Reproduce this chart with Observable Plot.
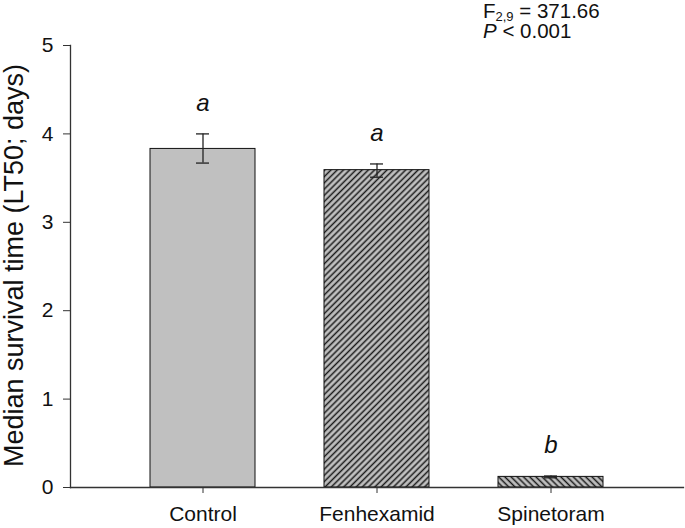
<!DOCTYPE html>
<html><head><meta charset="utf-8">
<script src="https://cdn.jsdelivr.net/npm/d3@7"></script>
<script src="https://cdn.jsdelivr.net/npm/@observablehq/plot@0.6"></script>
<style>
body{margin:0;background:#fff;font-family:"Liberation Sans",Arial,sans-serif}
#wrap{position:relative;width:685px;height:528px}
#stats{position:absolute;left:483px;top:1px;font-size:20.5px;line-height:20px;color:#111;z-index:2}
#stats div{height:20px;white-space:nowrap}
#stats sub{font-size:13px;vertical-align:-3px;line-height:0}
</style></head><body><div id="wrap"><div id="stats"><div>F<sub>2,9</sub> = 371.66</div><div><i>P</i> &lt; 0.001</div></div></div>
<script>
const treatments = ["Control", "Fenhexamid", "Spinetoram"];
const meanLT50 = [3.83, 3.59, 0.12];
const errLow = [3.67, 3.51, 0.11];
const errHigh = [4.00, 3.66, 0.13];
const letters = ["a", "a", "b"];
const yTicks = [0, 1, 2, 3, 4, 5];
const yLabel = "Median survival time (LT50; days)";

const data = treatments.map((t, i) => ({treatment: t, mean: meanLT50[i], lo: errLow[i], hi: errHigh[i], letter: letters[i]}));
const fillFor = {Control: "#c0c0c0", Fenhexamid: "url(#hatchUp)", Spinetoram: "url(#hatchDown)"};
const font = '"Liberation Sans", Arial, sans-serif';

const svg = Plot.plot({
  width: 685, height: 528,
  marginTop: 45, marginBottom: 41, marginLeft: 70, marginRight: 2,
  style: {fontFamily: font, background: "#fff", color: "#111"},
  x: {domain: treatments, paddingInner: 0.394, paddingOuter: 0.449, label: null},
  y: {domain: [0, 5], label: null},
  color: {type: "identity"},
  marks: [
    Plot.barY(data, {x: "treatment", y: "mean", fill: d => fillFor[d.treatment], stroke: "#111", strokeWidth: 1}),
    Plot.ruleX(data, {x: "treatment", y1: "lo", y2: "hi", stroke: "#222", strokeWidth: 1.3}),
    Plot.tickY(data, {x: "treatment", y: "lo", insetLeft: 46, insetRight: 46, stroke: "#222", strokeWidth: 1.3}),
    Plot.tickY(data, {x: "treatment", y: "hi", insetLeft: 46, insetRight: 46, stroke: "#222", strokeWidth: 1.3}),
    Plot.text(data, {x: "treatment", y: "hi", text: "letter", dy: -31, fontSize: 24, fontStyle: "italic", fill: "#111"}),
    Plot.frame({anchor: "left", stroke: "#333", strokeWidth: 1.3}),
    Plot.frame({anchor: "bottom", stroke: "#333", strokeWidth: 1.3}),
    Plot.axisY({ticks: yTicks, tickFormat: "d", tickSize: 7, tickPadding: 10, fontSize: 21, label: null, stroke: "#333"}),
    Plot.axisX({tickSize: 6, tickPadding: 13, fontSize: 21, label: null, stroke: "#333"}),
    Plot.text([yLabel], {text: d => d, frameAnchor: "left", textAnchor: "middle", lineAnchor: "middle", rotate: -90, dx: -56, dy: -1, fontSize: 27, fill: "#111"})
  ]
});

const defs = d3.select(svg).insert("defs", ":first-child");
[["hatchUp", 45], ["hatchDown", -45]].forEach(([id, angle]) => {
  const p = defs.append("pattern").attr("id", id).attr("patternUnits", "userSpaceOnUse")
    .attr("width", 4.4).attr("height", 4.4).attr("patternTransform", `rotate(${angle})`);
  p.append("rect").attr("width", 4.4).attr("height", 4.4).attr("fill", "#c0c0c0");
  p.append("line").attr("x1", 2.2).attr("y1", 0).attr("x2", 2.2).attr("y2", 4.4).attr("stroke", "#1a1a1a").attr("stroke-width", 1.5);
});

document.getElementById("wrap").appendChild(svg);
</script>
</body></html>
